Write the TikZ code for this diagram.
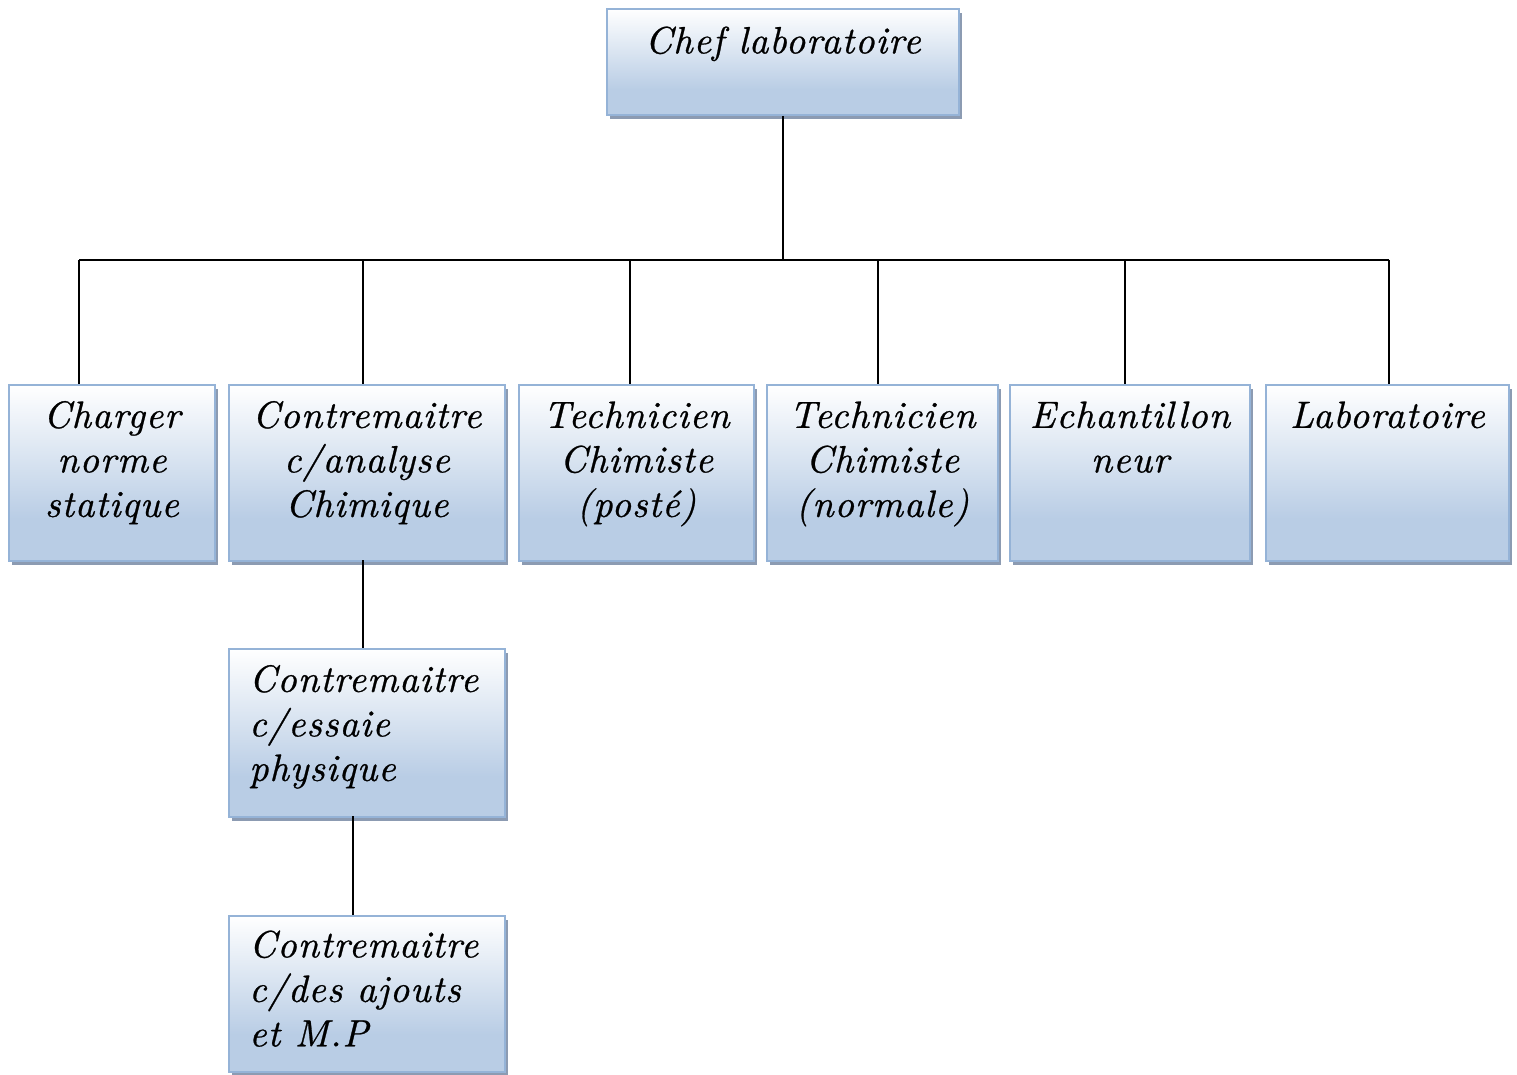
\documentclass[tikz,border=0pt]{standalone}
\usepackage{fontspec}
\usetikzlibrary{shadows}
\newfontfamily\boxfont{lmroman10-italic.otf}[LetterSpace=2.5, FakeBold=0.7]
\definecolor{boxblue}{RGB}{185,205,229}
\definecolor{boxedge}{RGB}{149,179,215}
\definecolor{boxshadow}{RGB}{140,155,178}
% the box spans 25bp (bottom) to 75bp (top) of this shading
\pgfdeclareverticalshading{boxshade}{100bp}{color(0bp)=(boxblue); color(37bp)=(boxblue); color(75bp)=(white); color(100bp)=(white)}
\tikzset{
  orgbox/.style={draw=boxedge, line width=1.8pt, shading=boxshade, inner sep=0pt,
    anchor=north west,
    drop shadow={shadow xshift=3.5pt, shadow yshift=-4pt, fill=boxshadow, opacity=1}},
  orgtext/.style={inner sep=0pt, anchor=north, font=\boxfont\fontsize{38}{44.5}\selectfont, align=center},
  orgtextl/.style={orgtext, anchor=north west, align=left},
  link/.style={line width=1.9pt, black}
}
\begin{document}
\begin{tikzpicture}[x=1pt,y=-1pt]
\useasboundingbox (0,0) rectangle (1517,1075);

% boxes
\node[orgbox, minimum width=352pt, minimum height=106pt] (chef) at (606,8) {};
\node[orgbox, minimum width=206pt, minimum height=176pt] (b1) at (8,384) {};
\node[orgbox, minimum width=276pt, minimum height=176pt] (b2) at (228,384) {};
\node[orgbox, minimum width=235pt, minimum height=176pt] (b3) at (518,384) {};
\node[orgbox, minimum width=231pt, minimum height=176pt] (b4) at (766,384) {};
\node[orgbox, minimum width=240pt, minimum height=176pt] (b5) at (1009,384) {};
\node[orgbox, minimum width=243pt, minimum height=176pt] (b6) at (1265,384) {};
\node[orgbox, minimum width=276pt, minimum height=168pt] (b7) at (228,648) {};
\node[orgbox, minimum width=276pt, minimum height=156pt] (b8) at (228,915) {};

% labels, top aligned inside their boxes
\node[orgtext] (t0) at ([yshift=-14pt]chef.north) {\strut Chef laboratoire};
\node[orgtext] (t1) at ([yshift=-12.5pt]b1.north) {\strut Charger\\norme\\statique};
\node[orgtext] (t2) at ([yshift=-12.5pt]b2.north) {\strut Contremaitre\\c/analyse\\Chimique};
\node[orgtext] (t3) at ([yshift=-12.5pt]b3.north) {\strut Technicien\\Chimiste\\(posté)};
\node[orgtext] (t4) at ([yshift=-12.5pt]b4.north) {\strut Technicien\\Chimiste\\(normale)};
\node[orgtext] (t5) at ([yshift=-12.5pt]b5.north) {\strut Echantillon\\neur};
\node[orgtext] (t6) at ([yshift=-12.5pt]b6.north) {\strut Laboratoire};
\node[orgtextl] (t7) at ([xshift=21pt,yshift=-12.5pt]b7.north west) {\strut Contremaitre\\c/essaie\\physique};
\node[orgtextl] (t8) at ([xshift=21pt,yshift=-11pt]b8.north west) {\strut Contremaitre\\c/des ajouts\\et M.P};

% connector junctions
\coordinate (j1) at (79,260);
\coordinate (j2) at (363,260);
\coordinate (j3) at (630,260);
\coordinate (j4) at (878,260);
\coordinate (j5) at (1125,260);
\coordinate (j6) at (1389,260);
\coordinate (k1) at (363,560);
\coordinate (k2) at (353,816);

% connectors
\draw[link] (chef.south) -- (chef.south |- j1);
\draw[link] (j1) -- (j6);
\draw[link] (j1) -- (j1 |- b1.north);
\draw[link] (j2) -- (j2 |- b2.north);
\draw[link] (j3) -- (j3 |- b3.north);
\draw[link] (j4) -- (j4 |- b4.north);
\draw[link] (j5) -- (j5 |- b5.north);
\draw[link] (j6) -- (j6 |- b6.north);
\draw[link] (k1) -- (k1 |- b7.north);
\draw[link] (k2) -- (k2 |- b8.north);
\end{tikzpicture}
\end{document}
